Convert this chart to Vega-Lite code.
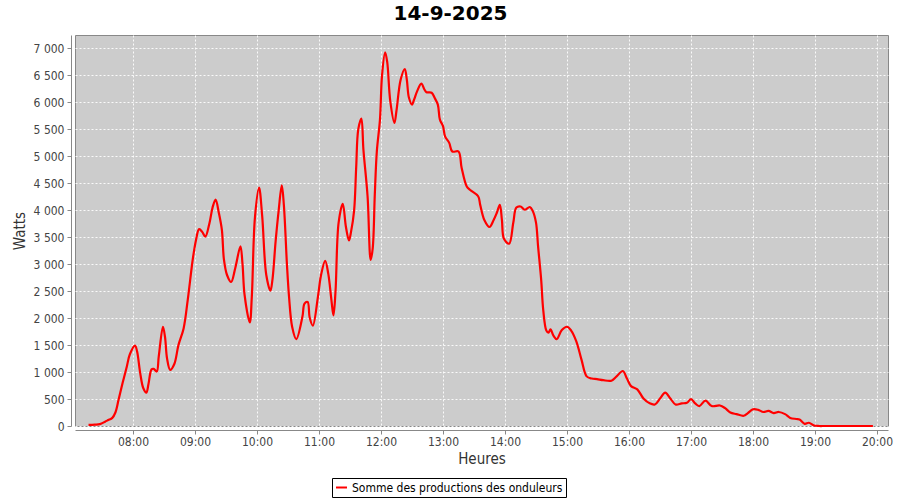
{
  "$schema": "https://vega.github.io/schema/vega-lite/v6.json",
  "autosize": {"type": "none"},
  "width": 813,
  "height": 391,
  "padding": {"left": 75, "top": 35, "right": 12, "bottom": 74},
  "background": "#ffffff",
  "title": {
    "text": "14-9-2025",
    "fontSize": 20,
    "fontWeight": "bold",
    "font": "DejaVu Sans",
    "color": "#000000",
    "anchor": "middle",
    "frame": "group",
    "dx": -31,
    "offset": 11
  },
  "data": {
    "values": [
      {"t": "2025-09-14T07:17", "w": 20},
      {"t": "2025-09-14T07:23", "w": 25},
      {"t": "2025-09-14T07:28", "w": 35},
      {"t": "2025-09-14T07:33", "w": 80},
      {"t": "2025-09-14T07:36", "w": 110},
      {"t": "2025-09-14T07:40", "w": 150},
      {"t": "2025-09-14T07:43", "w": 250},
      {"t": "2025-09-14T07:46", "w": 480},
      {"t": "2025-09-14T07:50", "w": 800},
      {"t": "2025-09-14T07:54", "w": 1100},
      {"t": "2025-09-14T07:57", "w": 1330},
      {"t": "2025-09-14T08:02", "w": 1490},
      {"t": "2025-09-14T08:04", "w": 1380},
      {"t": "2025-09-14T08:07", "w": 980},
      {"t": "2025-09-14T08:10", "w": 700},
      {"t": "2025-09-14T08:13", "w": 620},
      {"t": "2025-09-14T08:15", "w": 780},
      {"t": "2025-09-14T08:18", "w": 1050},
      {"t": "2025-09-14T08:20", "w": 1060},
      {"t": "2025-09-14T08:23", "w": 1010},
      {"t": "2025-09-14T08:25", "w": 1300},
      {"t": "2025-09-14T08:29", "w": 1840},
      {"t": "2025-09-14T08:31", "w": 1650},
      {"t": "2025-09-14T08:33", "w": 1250},
      {"t": "2025-09-14T08:36", "w": 1040},
      {"t": "2025-09-14T08:40", "w": 1150},
      {"t": "2025-09-14T08:44", "w": 1500},
      {"t": "2025-09-14T08:49", "w": 1810},
      {"t": "2025-09-14T08:53", "w": 2340},
      {"t": "2025-09-14T08:58", "w": 3110},
      {"t": "2025-09-14T09:01", "w": 3450},
      {"t": "2025-09-14T09:04", "w": 3650},
      {"t": "2025-09-14T09:07", "w": 3600},
      {"t": "2025-09-14T09:10", "w": 3510},
      {"t": "2025-09-14T09:14", "w": 3760},
      {"t": "2025-09-14T09:17", "w": 4050},
      {"t": "2025-09-14T09:20", "w": 4200},
      {"t": "2025-09-14T09:23", "w": 3960},
      {"t": "2025-09-14T09:26", "w": 3640},
      {"t": "2025-09-14T09:28", "w": 3090},
      {"t": "2025-09-14T09:31", "w": 2800},
      {"t": "2025-09-14T09:35", "w": 2670},
      {"t": "2025-09-14T09:39", "w": 2930},
      {"t": "2025-09-14T09:44", "w": 3330},
      {"t": "2025-09-14T09:46", "w": 3000},
      {"t": "2025-09-14T09:48", "w": 2430},
      {"t": "2025-09-14T09:53", "w": 1920},
      {"t": "2025-09-14T09:55", "w": 2400},
      {"t": "2025-09-14T09:58", "w": 3860},
      {"t": "2025-09-14T10:02", "w": 4420},
      {"t": "2025-09-14T10:05", "w": 3900},
      {"t": "2025-09-14T10:09", "w": 2800},
      {"t": "2025-09-14T10:13", "w": 2510},
      {"t": "2025-09-14T10:15", "w": 2720},
      {"t": "2025-09-14T10:18", "w": 3420},
      {"t": "2025-09-14T10:21", "w": 4000},
      {"t": "2025-09-14T10:24", "w": 4460},
      {"t": "2025-09-14T10:26", "w": 4100},
      {"t": "2025-09-14T10:29", "w": 2990},
      {"t": "2025-09-14T10:31", "w": 2400},
      {"t": "2025-09-14T10:34", "w": 1840},
      {"t": "2025-09-14T10:38", "w": 1610},
      {"t": "2025-09-14T10:44", "w": 2030},
      {"t": "2025-09-14T10:46", "w": 2270},
      {"t": "2025-09-14T10:49", "w": 2300},
      {"t": "2025-09-14T10:51", "w": 2010},
      {"t": "2025-09-14T10:54", "w": 1860},
      {"t": "2025-09-14T10:59", "w": 2400},
      {"t": "2025-09-14T11:02", "w": 2800},
      {"t": "2025-09-14T11:06", "w": 3060},
      {"t": "2025-09-14T11:09", "w": 2820},
      {"t": "2025-09-14T11:12", "w": 2340},
      {"t": "2025-09-14T11:14", "w": 2050},
      {"t": "2025-09-14T11:16", "w": 2500},
      {"t": "2025-09-14T11:19", "w": 3770},
      {"t": "2025-09-14T11:23", "w": 4120},
      {"t": "2025-09-14T11:26", "w": 3700},
      {"t": "2025-09-14T11:29", "w": 3440},
      {"t": "2025-09-14T11:31", "w": 3600},
      {"t": "2025-09-14T11:34", "w": 4000},
      {"t": "2025-09-14T11:36", "w": 4800},
      {"t": "2025-09-14T11:38", "w": 5500},
      {"t": "2025-09-14T11:41", "w": 5700},
      {"t": "2025-09-14T11:43", "w": 5120},
      {"t": "2025-09-14T11:47", "w": 4260},
      {"t": "2025-09-14T11:50", "w": 3080},
      {"t": "2025-09-14T11:52", "w": 3300},
      {"t": "2025-09-14T11:54", "w": 4290},
      {"t": "2025-09-14T11:56", "w": 5100},
      {"t": "2025-09-14T11:59", "w": 5680},
      {"t": "2025-09-14T12:01", "w": 6500},
      {"t": "2025-09-14T12:04", "w": 6930},
      {"t": "2025-09-14T12:06", "w": 6750},
      {"t": "2025-09-14T12:09", "w": 6020},
      {"t": "2025-09-14T12:13", "w": 5620},
      {"t": "2025-09-14T12:15", "w": 5850},
      {"t": "2025-09-14T12:19", "w": 6420},
      {"t": "2025-09-14T12:23", "w": 6620},
      {"t": "2025-09-14T12:25", "w": 6420},
      {"t": "2025-09-14T12:27", "w": 6090},
      {"t": "2025-09-14T12:30", "w": 5960},
      {"t": "2025-09-14T12:32", "w": 6050},
      {"t": "2025-09-14T12:35", "w": 6210},
      {"t": "2025-09-14T12:39", "w": 6350},
      {"t": "2025-09-14T12:42", "w": 6240},
      {"t": "2025-09-14T12:44", "w": 6190},
      {"t": "2025-09-14T12:49", "w": 6180},
      {"t": "2025-09-14T12:52", "w": 6080},
      {"t": "2025-09-14T12:55", "w": 5960},
      {"t": "2025-09-14T12:57", "w": 5680},
      {"t": "2025-09-14T13:00", "w": 5560},
      {"t": "2025-09-14T13:02", "w": 5370},
      {"t": "2025-09-14T13:06", "w": 5250},
      {"t": "2025-09-14T13:09", "w": 5090},
      {"t": "2025-09-14T13:15", "w": 5090},
      {"t": "2025-09-14T13:18", "w": 4790},
      {"t": "2025-09-14T13:23", "w": 4440},
      {"t": "2025-09-14T13:26", "w": 4380},
      {"t": "2025-09-14T13:34", "w": 4260},
      {"t": "2025-09-14T13:36", "w": 4100},
      {"t": "2025-09-14T13:40", "w": 3820},
      {"t": "2025-09-14T13:45", "w": 3690},
      {"t": "2025-09-14T13:49", "w": 3820},
      {"t": "2025-09-14T13:52", "w": 3950},
      {"t": "2025-09-14T13:55", "w": 4100},
      {"t": "2025-09-14T13:57", "w": 3820},
      {"t": "2025-09-14T13:59", "w": 3470},
      {"t": "2025-09-14T14:04", "w": 3380},
      {"t": "2025-09-14T14:08", "w": 3770},
      {"t": "2025-09-14T14:11", "w": 4050},
      {"t": "2025-09-14T14:15", "w": 4070},
      {"t": "2025-09-14T14:19", "w": 4010},
      {"t": "2025-09-14T14:24", "w": 4060},
      {"t": "2025-09-14T14:27", "w": 3980},
      {"t": "2025-09-14T14:30", "w": 3770},
      {"t": "2025-09-14T14:32", "w": 3330},
      {"t": "2025-09-14T14:35", "w": 2710},
      {"t": "2025-09-14T14:37", "w": 2150},
      {"t": "2025-09-14T14:40", "w": 1770},
      {"t": "2025-09-14T14:42", "w": 1730},
      {"t": "2025-09-14T14:44", "w": 1790},
      {"t": "2025-09-14T14:47", "w": 1670},
      {"t": "2025-09-14T14:50", "w": 1610},
      {"t": "2025-09-14T14:55", "w": 1780},
      {"t": "2025-09-14T15:00", "w": 1840},
      {"t": "2025-09-14T15:04", "w": 1770},
      {"t": "2025-09-14T15:09", "w": 1570},
      {"t": "2025-09-14T15:14", "w": 1230},
      {"t": "2025-09-14T15:19", "w": 920},
      {"t": "2025-09-14T15:24", "w": 880},
      {"t": "2025-09-14T15:29", "w": 870},
      {"t": "2025-09-14T15:35", "w": 850},
      {"t": "2025-09-14T15:43", "w": 840},
      {"t": "2025-09-14T15:48", "w": 920},
      {"t": "2025-09-14T15:54", "w": 1020},
      {"t": "2025-09-14T15:58", "w": 880},
      {"t": "2025-09-14T16:02", "w": 740},
      {"t": "2025-09-14T16:08", "w": 680},
      {"t": "2025-09-14T16:14", "w": 510},
      {"t": "2025-09-14T16:20", "w": 420},
      {"t": "2025-09-14T16:25", "w": 400},
      {"t": "2025-09-14T16:30", "w": 510},
      {"t": "2025-09-14T16:35", "w": 620},
      {"t": "2025-09-14T16:40", "w": 510},
      {"t": "2025-09-14T16:45", "w": 400},
      {"t": "2025-09-14T16:51", "w": 420},
      {"t": "2025-09-14T16:56", "w": 430},
      {"t": "2025-09-14T17:00", "w": 500},
      {"t": "2025-09-14T17:04", "w": 420},
      {"t": "2025-09-14T17:08", "w": 370},
      {"t": "2025-09-14T17:14", "w": 470},
      {"t": "2025-09-14T17:20", "w": 370},
      {"t": "2025-09-14T17:28", "w": 380},
      {"t": "2025-09-14T17:33", "w": 330},
      {"t": "2025-09-14T17:38", "w": 250},
      {"t": "2025-09-14T17:44", "w": 220},
      {"t": "2025-09-14T17:51", "w": 190},
      {"t": "2025-09-14T17:55", "w": 240},
      {"t": "2025-09-14T18:00", "w": 310},
      {"t": "2025-09-14T18:05", "w": 300},
      {"t": "2025-09-14T18:10", "w": 260},
      {"t": "2025-09-14T18:15", "w": 280},
      {"t": "2025-09-14T18:20", "w": 240},
      {"t": "2025-09-14T18:25", "w": 260},
      {"t": "2025-09-14T18:31", "w": 220},
      {"t": "2025-09-14T18:36", "w": 150},
      {"t": "2025-09-14T18:42", "w": 130},
      {"t": "2025-09-14T18:45", "w": 120},
      {"t": "2025-09-14T18:50", "w": 40},
      {"t": "2025-09-14T18:54", "w": 60},
      {"t": "2025-09-14T18:59", "w": 10},
      {"t": "2025-09-14T19:04", "w": 0},
      {"t": "2025-09-14T19:09", "w": 0},
      {"t": "2025-09-14T19:14", "w": 0},
      {"t": "2025-09-14T19:19", "w": 0},
      {"t": "2025-09-14T19:24", "w": 0},
      {"t": "2025-09-14T19:29", "w": 0},
      {"t": "2025-09-14T19:34", "w": 0},
      {"t": "2025-09-14T19:39", "w": 0},
      {"t": "2025-09-14T19:44", "w": 0},
      {"t": "2025-09-14T19:49", "w": 0},
      {"t": "2025-09-14T19:56", "w": 0}
    ]
  },
  "mark": {"type": "line", "strokeWidth": 2.2, "interpolate": "catmull-rom"},
  "encoding": {
    "x": {
      "field": "t",
      "type": "temporal",
      "title": "Heures",
      "scale": {
        "domain": [
          {"year": 2025, "month": 9, "date": 14, "hours": 7, "minutes": 3, "seconds": 54},
          {"year": 2025, "month": 9, "date": 14, "hours": 20, "minutes": 10, "seconds": 36}
        ],
        "nice": false
      },
      "axis": {
        "format": "%H:%M",
        "values": [
          {"year": 2025, "month": 9, "date": 14, "hours": 8},
          {"year": 2025, "month": 9, "date": 14, "hours": 9},
          {"year": 2025, "month": 9, "date": 14, "hours": 10},
          {"year": 2025, "month": 9, "date": 14, "hours": 11},
          {"year": 2025, "month": 9, "date": 14, "hours": 12},
          {"year": 2025, "month": 9, "date": 14, "hours": 13},
          {"year": 2025, "month": 9, "date": 14, "hours": 14},
          {"year": 2025, "month": 9, "date": 14, "hours": 15},
          {"year": 2025, "month": 9, "date": 14, "hours": 16},
          {"year": 2025, "month": 9, "date": 14, "hours": 17},
          {"year": 2025, "month": 9, "date": 14, "hours": 18},
          {"year": 2025, "month": 9, "date": 14, "hours": 19},
          {"year": 2025, "month": 9, "date": 14, "hours": 20}
        ],
        "offset": 4,
        "labelPadding": 2,
        "titlePadding": 4,
        "labelFlush": false,
        "labelOverlap": false
      }
    },
    "y": {
      "field": "w",
      "type": "quantitative",
      "title": "Watts",
      "scale": {"domain": [0, 7250], "nice": false, "zero": false},
      "axis": {
        "values": [0, 500, 1000, 1500, 2000, 2500, 3000, 3500, 4000, 4500, 5000, 5500, 6000, 6500, 7000],
        "labelExpr": "replace(format(datum.value, ',d'), ',', ' ')",
        "offset": 4,
        "labelPadding": 3,
        "titlePadding": 6
      }
    },
    "color": {
      "datum": "Somme des productions des onduleurs",
      "type": "nominal",
      "scale": {"range": ["#ff0000"]},
      "legend": {
        "title": null,
        "orient": "none",
        "legendX": 257,
        "legendY": 443,
        "symbolType": "stroke",
        "symbolStrokeWidth": 2,
        "symbolSize": 120,
        "strokeColor": "#000000",
        "fillColor": "#ffffff",
        "padding": 3,
        "labelFontSize": 12,
        "labelLimit": 400,
        "labelColor": "#000000",
        "labelFont": "DejaVu Sans Condensed, DejaVu Sans"
      }
    }
  },
  "config": {
    "view": {"fill": "#cccccc", "stroke": "#888888", "strokeWidth": 1},
    "axis": {
      "grid": true,
      "gridColor": "#ffffff",
      "gridDash": [2, 2],
      "gridWidth": 1,
      "gridOpacity": 0.9,
      "domainColor": "#888888",
      "tickColor": "#888888",
      "tickSize": 4,
      "labelFont": "DejaVu Sans Condensed, DejaVu Sans",
      "labelFontSize": 12,
      "labelColor": "#444444",
      "titleFont": "DejaVu Sans Condensed, DejaVu Sans",
      "titleFontSize": 15,
      "titleFontWeight": "normal",
      "titleColor": "#333333"
    }
  }
}
